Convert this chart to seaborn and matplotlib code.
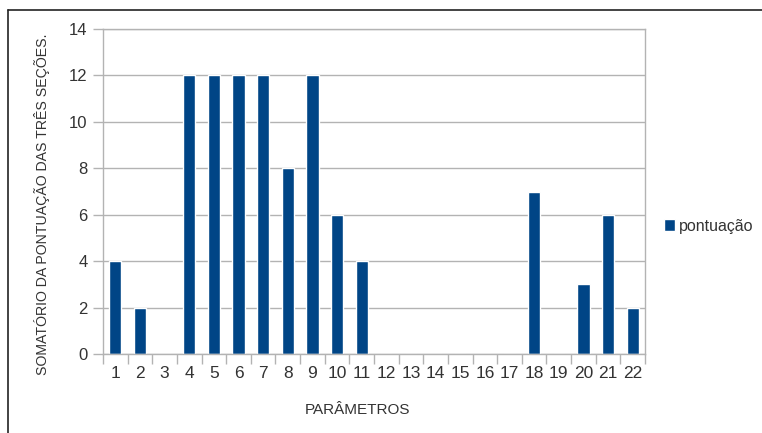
import matplotlib
matplotlib.use("Agg")
import matplotlib.pyplot as plt
from matplotlib.lines import Line2D
from matplotlib.ticker import FixedLocator
import seaborn as sns
import pandas as pd

parametros = [str(i) for i in range(1, 23)]
pontuacao = [4, 2, 0, 12, 12, 12, 12, 8, 12, 6, 4, 0, 0, 0, 0, 0, 0, 7, 0, 3, 6, 2]
y_ticks = [0, 2, 4, 6, 8, 10, 12, 14]

sns.set_theme(style="white")
plt.rcParams["font.family"] = ["Liberation Sans", "DejaVu Sans"]

df = pd.DataFrame({"PARÂMETROS": parametros, "pontuação": pontuacao})

fig = plt.figure(figsize=(7.62, 4.33), dpi=100)
ax = fig.add_axes([103 / 762, 1 - 354 / 433, (645 - 103) / 762, (354 - 29) / 433])

sns.barplot(data=df, x="PARÂMETROS", y="pontuação", color="#004586",
            width=0.5, saturation=1, ax=ax, label="pontuação")

ax.set_xlim(-0.5, len(parametros) - 0.5)
ax.set_ylim(0, 14)
ax.set_yticks(y_ticks)
ax.set_yticklabels([str(v) for v in y_ticks], fontsize=12, color="#333333")
ax.set_xticks(range(len(parametros)))
ax.set_xticklabels(parametros, fontsize=12.5, color="#333333")
ax.xaxis.set_minor_locator(FixedLocator([i - 0.5 for i in range(len(parametros) + 1)]))
ax.tick_params(axis="x", which="major", length=0, pad=9)
ax.tick_params(axis="x", which="minor", length=7, width=1, color="#b3b3b3", direction="out", bottom=True)
ax.tick_params(axis="y", length=7, width=1, color="#b3b3b3", direction="out", left=True, pad=4)

ax.grid(axis="y", color="#b3b3b3", linewidth=1)
ax.set_axisbelow(True)
for side in ["left", "right", "top", "bottom"]:
    ax.spines[side].set_visible(True)
    ax.spines[side].set_color("#b3b3b3")
    ax.spines[side].set_linewidth(1)

ax.set_xlabel("PARÂMETROS", fontsize=11, color="#333333")
ax.xaxis.set_label_coords(0.47, -0.15)
ax.set_ylabel("SOMATÓRIO DA PONTUAÇÃO DAS TRÊS SEÇÕES.", fontsize=10.2, color="#333333")
ax.yaxis.set_label_coords(-0.097, 0.46)

ax.legend(loc="center left", bbox_to_anchor=(664 / 762, 1 - 226 / 433),
          bbox_transform=fig.transFigure, frameon=False, fontsize=11.5,
          borderpad=0, borderaxespad=0,
          handlelength=0.7, handleheight=0.7, handletextpad=0.25, labelcolor="#333333")

# outer frame lines
fig.add_artist(Line2D([8 / 762, 1], [1 - 10 / 433, 1 - 10 / 433], transform=fig.transFigure, color="#222222", linewidth=1.2))
fig.add_artist(Line2D([8 / 762, 8 / 762], [0, 1 - 10 / 433], transform=fig.transFigure, color="#222222", linewidth=1.2))

fig.savefig("out.png", dpi=100)
